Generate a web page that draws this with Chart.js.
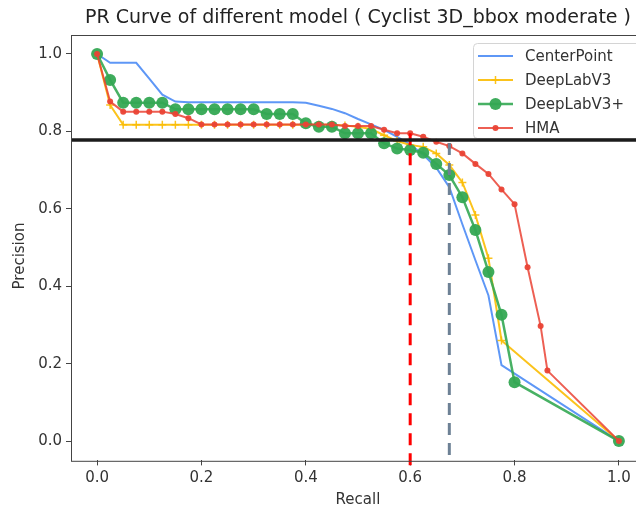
<!DOCTYPE html>
<html>
<head>
<meta charset="utf-8">
<script src="https://cdn.jsdelivr.net/npm/chart.js@4.4.1/dist/chart.umd.min.js"></script>
<style>
  html, body { margin: 0; padding: 0; background: #fff; overflow: hidden; }
  #wrap { width: 636px; height: 511px; overflow: hidden; }
</style>
</head>
<body>
<div id="wrap"><canvas id="prChart" width="660" height="511"></canvas></div>
<script>
// --- dados ---
const chartTitle = 'PR Curve of different model ( Cyclist 3D_bbox moderate )';
const xTitle = 'Recall';
const yTitle = 'Precision';
const xTicks = [0.0, 0.2, 0.4, 0.6, 0.8, 1.0];
const yTicks = [0.0, 0.2, 0.4, 0.6, 0.8, 1.0];

const centerPointRecall = [0, 0.025, 0.05, 0.075, 0.1, 0.125, 0.15, 0.175, 0.2, 0.225, 0.25, 0.275, 0.3, 0.325, 0.35, 0.375, 0.4, 0.425, 0.45, 0.475, 0.5, 0.525, 0.55, 0.575, 0.6, 0.625, 0.65, 0.675, 0.7, 0.725, 0.75, 0.775, 1.0];
const centerPointPrecision = [1.0, 0.977, 0.977, 0.977, 0.936, 0.895, 0.877, 0.875, 0.875, 0.875, 0.875, 0.875, 0.875, 0.875, 0.875, 0.875, 0.874, 0.866, 0.858, 0.847, 0.832, 0.818, 0.804, 0.786, 0.766, 0.740, 0.706, 0.656, 0.560, 0.467, 0.376, 0.196, 0.0];

const deepLabV3Recall = [0, 0.025, 0.05, 0.075, 0.1, 0.125, 0.15, 0.175, 0.2, 0.225, 0.25, 0.275, 0.3, 0.325, 0.35, 0.375, 0.4, 0.425, 0.45, 0.475, 0.5, 0.525, 0.55, 0.575, 0.6, 0.625, 0.65, 0.675, 0.7, 0.725, 0.75, 0.775, 1.0];
const deepLabV3Precision = [1.0, 0.868, 0.817, 0.817, 0.817, 0.817, 0.817, 0.817, 0.817, 0.817, 0.817, 0.817, 0.817, 0.817, 0.817, 0.817, 0.817, 0.817, 0.817, 0.815, 0.812, 0.806, 0.790, 0.775, 0.765, 0.760, 0.743, 0.713, 0.668, 0.584, 0.472, 0.260, 0.0];

const deepLabV3PlusRecall = [0, 0.025, 0.05, 0.075, 0.1, 0.125, 0.15, 0.175, 0.2, 0.225, 0.25, 0.275, 0.3, 0.325, 0.35, 0.375, 0.4, 0.425, 0.45, 0.475, 0.5, 0.525, 0.55, 0.575, 0.6, 0.625, 0.65, 0.675, 0.7, 0.725, 0.75, 0.775, 0.8, 1.0];
const deepLabV3PlusPrecision = [1.0, 0.933, 0.874, 0.874, 0.874, 0.874, 0.857, 0.857, 0.857, 0.857, 0.857, 0.857, 0.857, 0.845, 0.845, 0.845, 0.821, 0.812, 0.812, 0.795, 0.795, 0.795, 0.769, 0.756, 0.752, 0.745, 0.716, 0.687, 0.630, 0.545, 0.437, 0.326, 0.152, 0.0];

const hmaRecall = [0, 0.025, 0.05, 0.075, 0.1, 0.125, 0.15, 0.175, 0.2, 0.225, 0.25, 0.275, 0.3, 0.325, 0.35, 0.375, 0.4, 0.425, 0.45, 0.475, 0.5, 0.525, 0.55, 0.575, 0.6, 0.625, 0.65, 0.675, 0.7, 0.725, 0.75, 0.775, 0.8, 0.825, 0.85, 0.863, 1.0];
const hmaPrecision = [1.0, 0.877, 0.851, 0.851, 0.851, 0.851, 0.845, 0.834, 0.818, 0.818, 0.818, 0.818, 0.818, 0.818, 0.818, 0.818, 0.818, 0.818, 0.818, 0.814, 0.814, 0.814, 0.804, 0.795, 0.795, 0.786, 0.773, 0.762, 0.743, 0.716, 0.690, 0.650, 0.612, 0.449, 0.297, 0.182, 0.0];

// linhas de referencia desenhadas por cima
const thresholdPrecision = 0.778;
const hmaCutRecall = 0.6;
const hmaCutPrecision = 0.795;
const deepLabCutRecall = 0.675;
const deepLabCutPrecision = 0.77;

const xRange = [-0.05, 1.05];
const yRange = [-0.05, 1.05];

Chart.defaults.font.family = '"DejaVu Sans", sans-serif';
Chart.defaults.color = '#333';

function toPoints(xs, ys) {
    return xs.map((x, i) => ({ x: x, y: ys[i] }));
}

// titulo e rotulo do eixo Y (posicionados a mao, como no matplotlib)
const titlePlugin = {
    id: 'plotTitle',
    afterDraw(chart) {
        const { ctx, chartArea } = chart;
        ctx.save();
        ctx.font = '19px "DejaVu Sans", sans-serif';
        ctx.fillStyle = '#222';
        ctx.textAlign = 'center';
        ctx.textBaseline = 'middle';
        ctx.fillText(chartTitle, (chartArea.left + chartArea.right) / 2, 18);

        ctx.font = '15px "DejaVu Sans", sans-serif';
        ctx.fillStyle = '#333';
        ctx.translate(20, 256);
        ctx.rotate(-Math.PI / 2);
        ctx.fillText(yTitle, 0, 0);
        ctx.restore();
    }
};

// moldura dos eixos (4 lados)
const framePlugin = {
    id: 'axesFrame',
    afterDatasetsDraw(chart) {
        const { ctx, chartArea } = chart;
        ctx.save();
        ctx.strokeStyle = '#444';
        ctx.lineWidth = 1;
        ctx.strokeRect(Math.round(chartArea.left) + 0.5, Math.round(chartArea.top) + 0.5,
            chartArea.right - chartArea.left, chartArea.bottom - chartArea.top);
        ctx.restore();
    }
};

// legenda dentro do grafico, canto superior direito
const legendPlugin = {
    id: 'insideLegend',
    beforeDatasetsDraw(chart) {
        const ctx = chart.ctx;
        const items = chart.data.datasets.filter(d => !d.guide);
        const x0 = 473, y0 = 43, rowH = 24;
        ctx.save();
        ctx.fillStyle = 'rgba(255,255,255,0.85)';
        ctx.strokeStyle = '#d4d4d4';
        ctx.lineWidth = 1;
        ctx.beginPath();
        ctx.roundRect(x0 + 0.5, y0 + 0.5, 220, 95, 4);
        ctx.fill();
        ctx.stroke();

        items.forEach((d, i) => {
            const cy = y0 + 13 + i * rowH;
            ctx.strokeStyle = d.borderColor;
            ctx.lineWidth = d.borderWidth;
            ctx.beginPath();
            ctx.moveTo(x0 + 5, cy);
            ctx.lineTo(x0 + 40, cy);
            ctx.stroke();

            const mx = x0 + 22.5;
            if (d.pointRadius > 0) {
                if (d.pointStyle === 'cross') {
                    ctx.strokeStyle = d.pointBorderColor;
                    ctx.lineWidth = d.pointBorderWidth;
                    ctx.beginPath();
                    ctx.moveTo(mx - d.pointRadius, cy);
                    ctx.lineTo(mx + d.pointRadius, cy);
                    ctx.moveTo(mx, cy - d.pointRadius);
                    ctx.lineTo(mx, cy + d.pointRadius);
                    ctx.stroke();
                } else {
                    ctx.fillStyle = d.pointBackgroundColor;
                    ctx.beginPath();
                    ctx.arc(mx, cy, d.pointRadius, 0, Math.PI * 2);
                    ctx.fill();
                }
            }

            ctx.fillStyle = '#333';
            ctx.font = '15px "DejaVu Sans", sans-serif';
            ctx.textAlign = 'left';
            ctx.textBaseline = 'middle';
            ctx.fillText(d.label, x0 + 52, cy + 1);
        });
        ctx.restore();
    }
};

function renderPRChart() {
    const canvas = document.getElementById('prChart');
    const ctx = canvas.getContext('2d');

    new Chart(ctx, {
        type: 'line',
        data: {
            datasets: [
                {
                    label: 'CenterPoint',
                    data: toPoints(centerPointRecall, centerPointPrecision),
                    borderColor: 'rgba(66,133,244,0.85)',
                    borderWidth: 2,
                    pointRadius: 0,
                    order: 5
                },
                {
                    label: 'DeepLabV3',
                    data: toPoints(deepLabV3Recall, deepLabV3Precision),
                    borderColor: 'rgba(251,188,4,0.9)',
                    borderWidth: 2,
                    pointStyle: 'cross',
                    pointRadius: 4,
                    pointBorderWidth: 1.5,
                    pointBorderColor: 'rgba(251,188,4,0.9)',
                    order: 4
                },
                {
                    label: 'DeepLabV3+',
                    data: toPoints(deepLabV3PlusRecall, deepLabV3PlusPrecision),
                    borderColor: 'rgba(52,168,83,0.9)',
                    borderWidth: 2.5,
                    pointRadius: 6,
                    pointBorderWidth: 0,
                    pointBackgroundColor: 'rgba(52,168,83,0.95)',
                    order: 3
                },
                {
                    label: 'HMA',
                    data: toPoints(hmaRecall, hmaPrecision),
                    borderColor: 'rgba(234,67,53,0.85)',
                    borderWidth: 2,
                    pointRadius: 3,
                    pointBorderWidth: 0,
                    pointBackgroundColor: 'rgba(234,67,53,0.95)',
                    order: 2
                },
                {
                    guide: true,
                    data: [{ x: hmaCutRecall, y: hmaCutPrecision }, { x: hmaCutRecall, y: -0.08 }],
                    borderColor: '#ff0000',
                    borderWidth: 3,
                    borderDash: [12, 8],
                    pointRadius: 0,
                    clip: false,
                    order: 1
                },
                {
                    guide: true,
                    data: [{ x: deepLabCutRecall, y: deepLabCutPrecision }, { x: deepLabCutRecall, y: yRange[0] }],
                    borderColor: '#6d8195',
                    borderWidth: 3,
                    borderDash: [12, 8],
                    pointRadius: 0,
                    order: 1
                },
                {
                    guide: true,
                    data: [{ x: xRange[0], y: thresholdPrecision }, { x: xRange[1], y: thresholdPrecision }],
                    borderColor: '#1c1c1c',
                    borderWidth: 3.5,
                    pointRadius: 0,
                    order: 0
                }
            ]
        },
        options: {
            responsive: false,
            animation: false,
            layout: { padding: { top: 34.6, right: 15, left: 0, bottom: 0 } },
            plugins: {
                legend: { display: false },
                tooltip: { enabled: false }
            },
            scales: {
                x: {
                    type: 'linear',
                    min: xRange[0],
                    max: xRange[1],
                    afterBuildTicks: (scale) => { scale.ticks = xTicks.map(v => ({ value: v })); },
                    afterFit: (scale) => { scale.height = 50.6; },
                    grid: { drawOnChartArea: false, drawTicks: true, tickLength: 5, color: '#444' },
                    border: { display: false },
                    ticks: { color: '#333', font: { size: 15 }, padding: 4, maxRotation: 0,
                             callback: (v) => v.toFixed(1) },
                    title: { display: true, text: xTitle, color: '#333', font: { size: 15 },
                             padding: { top: 0, bottom: 2 } }
                },
                y: {
                    type: 'linear',
                    min: yRange[0],
                    max: yRange[1],
                    afterBuildTicks: (scale) => { scale.ticks = yTicks.map(v => ({ value: v })); },
                    afterFit: (scale) => { scale.width = 71; },
                    grid: { drawOnChartArea: false, drawTicks: true, tickLength: 5, color: '#444' },
                    border: { display: false },
                    ticks: { color: '#333', font: { size: 15 }, padding: 4,
                             callback: (v) => v.toFixed(1) },
                    title: { display: false }
                }
            }
        },
        plugins: [legendPlugin, framePlugin, titlePlugin]
    });
}

document.addEventListener('DOMContentLoaded', renderPRChart);
</script>
</body>
</html>
